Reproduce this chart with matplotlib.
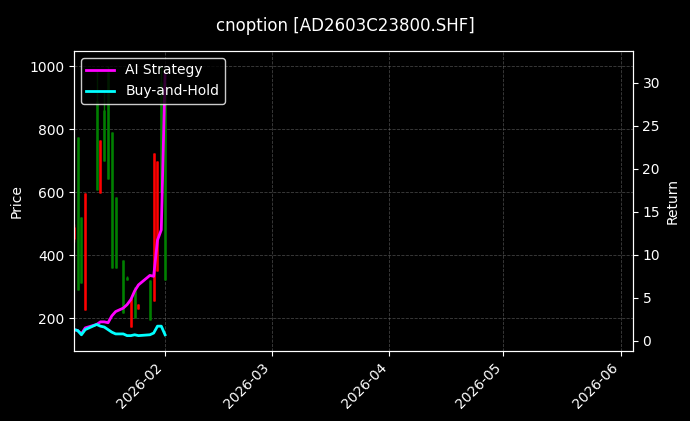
import numpy as np
import pandas as pd
import matplotlib
matplotlib.use("Agg")
import matplotlib.pyplot as plt
import matplotlib.dates as mdates

# candle data
day_offsets = [0, 1, 2, 3, 6, 7, 8, 9, 10, 11, 13, 14, 15, 16, 17, 20, 21, 22, 23, 24]
opens  = [490, 290, 310, 597, 605, 765, 700, 640, 360, 360, 215, 320, 265, 200, 245, 195, 725, 700, 600, 320]
closes = [450, 775, 520, 225, 890, 597, 860, 980, 790, 585, 385, 330, 170, 300, 230, 320, 255, 350, 950, 945]
highs  = [500, 775, 520, 597, 990, 765, 920, 1000, 790, 585, 385, 335, 265, 300, 245, 320, 725, 700, 1000, 945]
lows   = [440, 290, 310, 225, 605, 597, 700, 640, 360, 360, 215, 320, 170, 200, 230, 195, 255, 350, 600, 320]

ai_return = [1.3, 1.2, 0.8, 1.5, 1.9, 2.2, 2.2, 2.1, 2.9, 3.4, 3.8, 4.2, 4.8, 5.8, 6.5, 7.6, 7.5, 11.7, 12.9, 31.0]
bh_return = [1.3, 1.2, 0.7, 1.3, 1.9, 1.7, 1.6, 1.3, 1.0, 0.8, 0.8, 0.6, 0.6, 0.7, 0.6, 0.7, 0.9, 1.7, 1.7, 0.7]

dates = pd.Timestamp("2026-01-08") + pd.to_timedelta(day_offsets, unit="D")

plt.style.use("dark_background")
fig, ax = plt.subplots(figsize=(6.9, 4.21), dpi=100)
fig.subplots_adjust(left=0.107, right=0.917, top=0.879, bottom=0.166)

for d, o, c, h, l in zip(dates, opens, closes, highs, lows):
    col = "green" if c >= o else "red"
    ax.vlines(d, l, h, color=col, linewidth=1)
    ax.vlines(d, min(o, c), max(o, c), color=col, linewidth=1.8)

ax.set_ylim(95, 1048)
ax.set_ylabel("Price")
ax.set_xlim(pd.Timestamp("2026-01-08"), pd.Timestamp("2026-06-04"))
ax.xaxis.set_major_locator(mdates.MonthLocator())
ax.xaxis.set_major_formatter(mdates.DateFormatter("%Y-%m"))
plt.setp(ax.get_xticklabels(), rotation=45, ha="right")
ax.grid(True, linestyle="--", color="gray", alpha=0.5, linewidth=0.6)

ax2 = ax.twinx()
ax2.plot(dates, ai_return, color="magenta", linewidth=2, label="AI Strategy")
ax2.plot(dates, bh_return, color="cyan", linewidth=2, label="Buy-and-Hold")
ax2.set_ylim(-1.2, 33.7)
ax2.set_ylabel("Return")
ax2.legend(loc="upper left", facecolor="black", edgecolor="white")

fig.suptitle("cnoption [AD2603C23800.SHF]", y=0.96)
fig.savefig("out.png", dpi=100)
